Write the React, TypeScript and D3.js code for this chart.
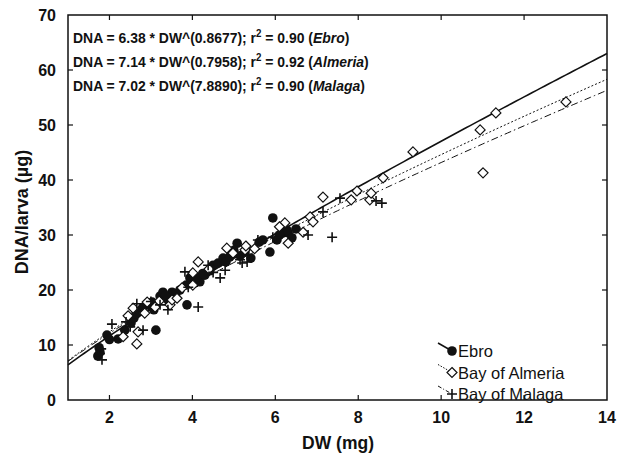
import React from "react";
import * as d3 from "d3";

const ebro: [number, number][] = [
  [1.72, 8.0], [1.75, 9.5], [1.77, 8.7], [1.94, 11.8], [2.21, 11.1], [2.37, 12.7],
  [2.52, 14.0], [2.59, 14.9], [2.64, 15.6], [2.74, 16.2], [2.93, 17.6], [3.03, 17.8],
  [3.12, 12.7], [3.07, 16.4], [3.22, 18.9], [3.29, 19.6], [3.41, 18.2], [3.51, 19.6],
  [3.87, 17.3], [3.7, 20.0], [3.85, 20.9], [3.94, 22.2], [4.06, 21.3], [4.18, 21.5],
  [4.3, 22.7], [4.42, 23.5], [4.5, 24.5], [4.62, 24.9], [4.74, 25.8], [4.81, 25.1],
  [4.93, 26.9], [5.08, 28.5], [5.15, 26.2], [5.27, 26.9], [5.41, 25.8], [5.87, 26.9],
  [5.94, 33.1], [5.61, 28.7], [5.7, 29.1], [6.04, 29.1], [6.19, 30.4], [6.31, 30.4],
  [6.4, 29.5], [6.5, 31.1], [6.28, 30.9], [2.8, 16.8], [3.0, 17.0], [3.35, 19.0],
  [3.6, 19.3], [4.1, 22.3], [4.25, 23.0], [4.9, 26.0], [5.0, 27.2], [6.1, 30.0], [2.0, 11.0],
];

const almeria: [number, number][] = [
  [2.33, 11.5], [2.66, 10.2], [2.45, 15.3], [2.57, 16.7], [2.69, 12.4], [2.91, 17.8],
  [3.46, 17.3], [3.51, 18.2], [3.63, 18.5], [3.75, 20.4], [4.01, 20.9], [4.01, 23.1],
  [4.14, 25.1], [4.83, 27.6], [4.98, 26.7], [5.27, 27.3], [5.29, 28.0], [6.23, 32.2],
  [6.31, 28.5], [6.67, 30.5], [6.84, 33.3], [6.91, 32.4], [7.15, 36.9], [7.83, 36.4],
  [7.97, 38.0], [8.28, 36.4], [8.31, 37.6], [8.6, 40.4], [9.32, 45.1], [10.94, 49.1],
  [11.01, 41.3], [11.32, 52.2], [13.01, 54.2], [2.85, 15.8], [3.1, 16.9], [3.2, 18.0],
  [4.4, 23.8], [5.5, 27.5], [6.1, 31.5],
];

const malaga: [number, number][] = [
  [1.82, 7.3], [1.77, 8.4], [2.06, 13.8], [2.66, 17.5], [2.81, 12.7], [3.41, 16.4],
  [3.82, 23.3], [4.14, 16.9], [4.38, 24.5], [4.67, 22.2], [4.79, 23.6], [5.15, 25.5],
  [5.2, 24.9], [5.32, 25.1], [5.58, 29.1], [5.94, 29.6], [6.79, 30.0], [7.15, 34.2],
  [7.37, 29.6], [7.56, 36.7], [8.43, 36.2], [8.57, 35.8], [2.5, 13.3], [3.22, 17.3],
  [2.4, 14.2], [3.0, 17.9], [3.9, 20.5], [4.5, 23.2], [6.0, 29.5], [1.8, 9.3],
];

const fits = [
  { name: "Ebro", a: 6.38, b: 0.8677, bLabel: "0.8677", r2: "0.90", dash: "none", width: 1.6 },
  { name: "Almeria", a: 7.14, b: 0.7958, bLabel: "0.7958", r2: "0.92", dash: "2,2", width: 1 },
  { name: "Malaga", a: 7.02, b: 0.7889, bLabel: "7.8890", r2: "0.90", dash: "7,3,1.5,3", width: 1 },
];

const legendLabels = ["Ebro", "Bay of Almeria", "Bay of Malaga"];
const xTicks = [2, 4, 6, 8, 10, 12, 14];
const yTicks = [0, 10, 20, 30, 40, 50, 60, 70];

const W = 619, H = 459;
const L = 68, R = 607, T = 15, B = 400;
const FONT = "Liberation Sans, Arial, sans-serif";

function Marker({ kind, x, y }: { kind: number; x: number; y: number }) {
  if (kind === 0) return <circle cx={x} cy={y} r={4.8} fill="#111" />;
  if (kind === 1)
    return (
      <path
        d={`M${x},${y - 5}L${x + 5},${y}L${x},${y + 5}L${x - 5},${y}Z`}
        fill="white"
        stroke="#111"
        strokeWidth={1.2}
      />
    );
  return (
    <path
      d={`M${x - 5},${y}H${x + 5}M${x},${y - 5}V${y + 5}`}
      stroke="#111"
      strokeWidth={1.6}
      fill="none"
    />
  );
}

export default function App() {
  const x = d3.scaleLinear().domain([1, 14]).range([L, R]);
  const y = d3.scaleLinear().domain([0, 70]).range([B, T]);
  const xs = d3.range(1, 14.001, 0.1);
  const series = [ebro, almeria, malaga];

  return (
    <svg width={W} height={H} style={{ position: "absolute", left: 0, top: 0, background: "white" }} fontFamily={FONT}>
      <rect width={W} height={H} fill="white" />
      {fits.map((f, i) => {
        const line = d3
          .line<number>()
          .x((v) => x(v))
          .y((v) => y(f.a * Math.pow(v, f.b)));
        return (
          <path key={i} d={line(xs) || ""} fill="none" stroke="#111" strokeWidth={f.width} strokeDasharray={f.dash} />
        );
      })}
      {series.map((s, k) =>
        s.map((p, j) => <Marker key={`${k}-${j}`} kind={k} x={x(p[0])} y={y(p[1])} />)
      )}
      <rect x={L} y={T} width={R - L} height={B - T} fill="none" stroke="#111" strokeWidth={1.5} />
      {xTicks.filter((t) => t < 14).map((t) => (
        <g key={"xt" + t}>
          <line x1={x(t)} x2={x(t)} y1={B} y2={B - 5} stroke="#111" strokeWidth={1.2} />
          <line x1={x(t)} x2={x(t)} y1={T} y2={T + 5} stroke="#111" strokeWidth={1.2} />
        </g>
      ))}
      {yTicks.filter((t) => t > 0 && t < 70).map((t) => (
        <g key={"yt" + t}>
          <line x1={L} x2={L + 5} y1={y(t)} y2={y(t)} stroke="#111" strokeWidth={1.2} />
          <line x1={R} x2={R - 5} y1={y(t)} y2={y(t)} stroke="#111" strokeWidth={1.2} />
        </g>
      ))}
      {xTicks.map((t) => (
        <text key={"xl" + t} x={x(t)} y={423} textAnchor="middle" fontSize={16} fontWeight="bold" fill="#111">
          {t}
        </text>
      ))}
      {yTicks.map((t) => (
        <text key={"yl" + t} x={56} y={y(t) + 5.5} textAnchor="end" fontSize={16} fontWeight="bold" fill="#111">
          {t}
        </text>
      ))}
      <text x={338} y={449} textAnchor="middle" fontSize={17.5} fontWeight="bold" fill="#111">
        DW (mg)
      </text>
      <text
        transform={`translate(28,212) rotate(-90)`}
        textAnchor="middle"
        fontSize={18}
        fontWeight="bold"
        fill="#111"
      >
        DNA/larva (µg)
      </text>
      <g transform="translate(73,0) scale(0.93,1)">
        {fits.map((f, i) => (
          <text key={"eq" + i} x={0} y={43.5 + i * 24} fontSize={15} fontWeight="bold" fill="#111">
            {`DNA = ${f.a.toFixed(2)} * DW^(${f.bLabel}); r`}
            <tspan dy={-6} fontSize={10.5}>2</tspan>
            <tspan dy={6}>{` = ${f.r2} (`}</tspan>
            <tspan fontStyle="italic">{f.name}</tspan>
            <tspan>)</tspan>
          </text>
        ))}
      </g>
      {legendLabels.map((lab, i) => {
        const cy = 351 + i * 21.5;
        return (
          <g key={"lg" + i}>
            <line
              x1={438}
              y1={cy - 8}
              x2={452}
              y2={cy}
              stroke="#111"
              strokeWidth={fits[i].width}
              strokeDasharray={fits[i].dash === "none" ? undefined : fits[i].dash === "2,2" ? "1.5,1.5" : "4,2,1,2"}
            />
            <Marker kind={i} x={452} y={cy} />
            <text x={458} y={cy + 6} fontSize={16.5} fill="#111">
              {lab}
            </text>
          </g>
        );
      })}
    </svg>
  );
}
